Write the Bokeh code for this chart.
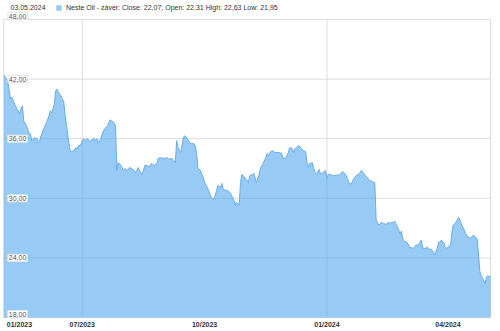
import pandas as pd
from bokeh.plotting import figure
from bokeh.models import ColumnDataSource, Label, Legend, LegendItem, Range1d
from bokeh.core.properties import value
from bokeh.embed import file_html
from bokeh.resources import INLINE

dates = [
    "2023-05-03", "2023-05-06", "2023-05-08", "2023-05-09", "2023-05-11", "2023-05-13", "2023-05-15",
    "2023-05-16", "2023-05-17", "2023-05-18", "2023-05-20", "2023-05-22", "2023-05-23", "2023-05-24",
    "2023-05-26", "2023-05-28", "2023-05-29", "2023-05-30", "2023-05-31", "2023-06-02", "2023-06-04",
    "2023-06-06", "2023-06-07", "2023-06-08", "2023-06-09", "2023-06-10", "2023-06-11", "2023-06-12",
    "2023-06-13", "2023-06-15", "2023-06-16", "2023-06-17", "2023-06-18", "2023-06-20", "2023-06-21",
    "2023-06-22", "2023-06-23", "2023-06-25", "2023-06-26", "2023-06-27", "2023-06-28", "2023-06-30",
    "2023-07-01", "2023-07-02", "2023-07-03", "2023-07-05", "2023-07-06", "2023-07-07", "2023-07-08",
    "2023-07-10", "2023-07-11", "2023-07-12", "2023-07-13", "2023-07-15", "2023-07-16", "2023-07-17",
    "2023-07-18", "2023-07-20", "2023-07-21", "2023-07-22", "2023-07-23", "2023-07-25", "2023-07-26",
    "2023-07-27", "2023-07-28", "2023-07-29", "2023-07-30", "2023-07-31", "2023-08-01", "2023-08-02",
    "2023-08-04", "2023-08-05", "2023-08-06", "2023-08-07", "2023-08-09", "2023-08-10", "2023-08-11",
    "2023-08-12", "2023-08-14", "2023-08-15", "2023-08-16", "2023-08-17", "2023-08-19", "2023-08-20",
    "2023-08-21", "2023-08-22", "2023-08-24", "2023-08-26", "2023-08-27", "2023-08-29", "2023-08-30",
    "2023-08-31", "2023-09-01", "2023-09-03", "2023-09-04", "2023-09-05", "2023-09-06", "2023-09-08",
    "2023-09-09", "2023-09-10", "2023-09-11", "2023-09-13", "2023-09-14", "2023-09-15", "2023-09-16",
    "2023-09-18", "2023-09-19", "2023-09-20", "2023-09-21", "2023-09-23", "2023-09-24", "2023-09-25",
    "2023-09-26", "2023-09-28", "2023-09-29", "2023-09-30", "2023-10-01", "2023-10-03", "2023-10-04",
    "2023-10-05", "2023-10-06", "2023-10-08", "2023-10-09", "2023-10-10", "2023-10-11", "2023-10-13",
    "2023-10-14", "2023-10-15", "2023-10-17", "2023-10-18", "2023-10-19", "2023-10-20", "2023-10-22",
    "2023-10-23", "2023-10-24", "2023-10-25", "2023-10-27", "2023-10-28", "2023-10-29", "2023-10-30",
    "2023-11-01", "2023-11-02", "2023-11-03", "2023-11-04", "2023-11-06", "2023-11-07", "2023-11-09",
    "2023-11-11", "2023-11-12", "2023-11-14", "2023-11-16", "2023-11-17", "2023-11-18", "2023-11-19",
    "2023-11-21", "2023-11-23", "2023-11-26", "2023-11-28", "2023-11-29", "2023-12-01", "2023-12-02",
    "2023-12-03", "2023-12-04", "2023-12-06", "2023-12-07", "2023-12-08", "2023-12-09", "2023-12-11",
    "2023-12-13", "2023-12-14", "2023-12-16", "2023-12-17", "2023-12-18", "2023-12-19", "2023-12-21",
    "2023-12-22", "2023-12-23", "2023-12-24", "2023-12-26", "2023-12-27", "2023-12-28", "2023-12-29",
    "2023-12-31", "2024-01-01", "2024-01-02", "2024-01-03", "2024-01-06", "2024-01-08", "2024-01-09",
    "2024-01-10", "2024-01-11", "2024-01-12", "2024-01-13", "2024-01-15", "2024-01-16", "2024-01-17",
    "2024-01-18", "2024-01-20", "2024-01-21", "2024-01-22", "2024-01-23", "2024-01-25", "2024-01-26",
    "2024-01-27", "2024-01-28", "2024-01-30", "2024-01-31", "2024-02-01", "2024-02-02", "2024-02-04",
    "2024-02-05", "2024-02-06", "2024-02-07", "2024-02-09", "2024-02-10", "2024-02-11", "2024-02-12",
    "2024-02-14", "2024-02-15", "2024-02-16", "2024-02-17", "2024-02-19", "2024-02-20", "2024-02-21",
    "2024-02-22", "2024-02-24", "2024-02-25", "2024-02-26", "2024-02-27", "2024-02-29", "2024-03-01",
    "2024-03-02", "2024-03-03", "2024-03-05", "2024-03-06", "2024-03-07", "2024-03-08", "2024-03-10",
    "2024-03-11", "2024-03-12", "2024-03-13", "2024-03-15", "2024-03-16", "2024-03-17", "2024-03-18",
    "2024-03-20", "2024-03-22", "2024-03-24", "2024-03-25", "2024-03-26", "2024-03-27", "2024-03-29",
    "2024-03-30", "2024-03-31", "2024-04-01", "2024-04-03", "2024-04-04", "2024-04-05", "2024-04-06",
    "2024-04-08", "2024-04-09", "2024-04-10", "2024-04-11", "2024-04-13", "2024-04-14", "2024-04-15",
    "2024-04-16", "2024-04-18", "2024-04-19", "2024-04-20", "2024-04-21", "2024-04-23", "2024-04-24",
    "2024-04-25", "2024-04-26", "2024-04-28", "2024-04-29", "2024-04-30", "2024-05-01", "2024-05-03",
]

close = [
    42.4, 41.8, 40.0, 40.2, 39.5, 39.0, 38.5,
    39.1, 39.3, 37.8, 37.3, 36.6, 36.5, 35.8,
    36.1, 36.0, 35.6, 35.8, 36.3, 37.0, 37.6,
    38.3, 38.8, 38.6, 39.0, 39.5, 40.8, 41.0,
    40.7, 40.3, 40.0, 39.8, 38.5, 36.5, 35.5,
    34.8, 34.7, 34.8, 35.1, 34.9, 35.3, 35.4,
    35.8, 36.0, 35.8, 36.0, 35.8, 35.7, 35.9,
    36.0, 35.8, 36.0, 35.6, 36.0, 36.5, 36.8,
    37.0, 37.3, 37.6, 37.9, 37.8, 37.6, 37.3,
    32.8, 33.6, 33.5, 33.3, 33.1, 32.8, 33.0,
    32.8, 33.0, 33.1, 33.0, 32.8, 32.6, 32.8,
    33.1, 32.6, 32.4, 32.8, 33.3, 33.3, 33.1,
    33.3, 33.5, 33.3, 33.5, 34.0, 34.1, 34.0,
    34.1, 34.0, 34.1, 33.9, 34.0, 34.0, 33.8,
    33.6, 35.8, 35.1, 34.6, 35.3, 36.1, 36.3,
    36.0, 35.8, 35.6, 35.5, 35.5, 35.3, 34.5,
    33.0, 32.8, 32.4, 32.1, 31.6, 31.1, 30.8,
    30.4, 30.1, 29.9, 30.3, 30.8, 31.3, 31.1,
    31.5, 30.9, 30.8, 30.8, 30.7, 30.6, 30.1,
    29.8, 29.3, 29.6, 29.3, 31.6, 32.4, 32.3,
    31.9, 31.8, 31.6, 32.3, 32.4, 32.5, 31.6,
    32.4, 33.0, 33.5, 34.1, 34.5, 34.3, 34.6,
    34.8, 34.6, 34.6, 34.5, 34.0, 34.1, 34.3,
    34.6, 35.1, 35.0, 34.6, 35.0, 35.1, 35.3,
    35.0, 34.8, 34.7, 33.6, 33.1, 33.5, 33.6,
    33.1, 32.6, 32.4, 32.9, 32.6, 32.4, 32.6,
    32.8, 32.0, 32.4, 32.4, 32.3, 32.3, 32.4,
    32.3, 32.4, 32.6, 32.7, 32.4, 32.1, 31.8,
    31.4, 31.6, 32.0, 32.1, 32.3, 32.4, 32.6,
    32.8, 32.6, 32.3, 32.1, 32.0, 31.8, 31.7,
    31.6, 31.6, 27.8, 27.3, 27.4, 27.6, 27.5,
    27.4, 27.4, 27.6, 27.5, 27.6, 27.6, 27.7,
    27.4, 26.8, 26.4, 26.7, 25.9, 25.6, 25.6,
    25.4, 25.1, 25.0, 25.0, 25.1, 25.3, 25.3,
    25.6, 25.8, 25.0, 24.9, 25.1, 25.0, 24.9,
    24.8, 24.3, 25.0, 25.6, 25.5, 25.8, 25.5,
    25.0, 24.9, 25.1, 25.3, 26.6, 27.3, 27.4,
    27.8, 28.1, 27.8, 27.4, 26.9, 26.5, 26.3,
    26.1, 26.0, 26.1, 26.3, 26.2, 25.9, 24.4,
    22.6, 22.2, 21.7, 21.4, 22.1, 22.2, 22.07,
]

y_ticks = [18, 24, 30, 36, 42, 48]
y_tick_labels = ["18,00", "24,00", "30,00", "36,00", "42,00", "48,00"]
x_tick_dates = ["2023-07-01", "2023-10-01", "2024-01-01", "2024-04-01"]
x_tick_labels = ["07/2023", "10/2023", "01/2024", "04/2024"]
x_grid_dates = ["2023-07-01", "2024-01-01"]
first_x_label = "01/2023"
header_date = "03.05.2024"
series_label = "Neste Oil - záver: Close: 22,07; Open: 22,31 High: 22,63 Low: 21,95"
x_start, x_end = "2023-05-03", "2024-05-03"

FONT = "Liberation Sans"
W, H = 500, 331
# plot-box margins in pixels inside the canvas
ML, MR, MT, MB = 3.3, 10.0, 19.0, 14.0

t0, t1 = pd.Timestamp(x_start), pd.Timestamp(x_end)
ymin, ymax = min(y_ticks), max(y_ticks)
span_days = (t1 - t0) / pd.Timedelta(days=1)
px_day = (W - ML - MR) / span_days
px_unit = (H - MT - MB) / (ymax - ymin)
xr = Range1d(t0 - pd.Timedelta(days=ML / px_day), t1 + pd.Timedelta(days=MR / px_day))
yr = Range1d(ymin - MB / px_unit, ymax + MT / px_unit)

src = ColumnDataSource(dict(x=pd.to_datetime(dates), y=close))

p = figure(width=W, height=H, x_axis_location=None, y_axis_location=None,
           output_backend="svg", toolbar_location=None, x_range=xr, y_range=yr,
           min_border=0)
p.outline_line_color = None
p.xgrid.visible = False
p.ygrid.visible = False
p.background_fill_color = "white"
p.border_fill_color = "white"

GRID = "#dcdcdc"
# horizontal grid lines (incl. top and bottom of the box)
p.segment(x0=[t0] * len(y_ticks), x1=[t1] * len(y_ticks), y0=y_ticks, y1=y_ticks,
          line_color=GRID, line_width=1)
# vertical lines: box edges and half-year grid
vx = [t0, t1] + [pd.Timestamp(d) for d in x_grid_dates]
p.segment(x0=vx, x1=vx, y0=[ymin] * len(vx), y1=[ymax] * len(vx), line_color=GRID, line_width=1)

area = p.varea(x="x", y1=ymin, y2="y", source=src, fill_color="#4DA3F0", fill_alpha=0.58)
p.line(x="x", y="y", source=src, line_color="#68ADEA", line_width=1)

# y labels inside the box
ylab = ColumnDataSource(dict(
    x=[t0] * len(y_ticks), y=y_ticks, text=y_tick_labels,
    base=["bottom" if v in (ymin, ymax) else "middle" for v in y_ticks]))
p.text(x="x", y="y", text="text", source=ylab, x_offset=4, text_baseline="base",
       text_align="left", text_font=value(FONT), text_font_size="7px", text_color="#555555",
       background_fill_color="white", border_line_color="#e6e6e6", padding=1)

# x labels below the box
xlab = ColumnDataSource(dict(x=pd.to_datetime(x_tick_dates), y=[ymin] * len(x_tick_dates),
                             text=x_tick_labels))
p.text(x="x", y="y", text="text", source=xlab, y_offset=7, text_baseline="middle",
       text_align="center", text_font=value(FONT), text_font_size="7px",
       text_font_style="bold", text_color="#333333")
p.text(x=[t0], y=[ymin], text=[first_x_label], x_offset=3, y_offset=7, text_baseline="middle",
       text_align="left", text_font=value(FONT), text_font_size="7px",
       text_font_style="bold", text_color="#333333")

# header
p.add_layout(Label(x=10, y=H - 7, x_units="screen", y_units="screen", text=header_date,
                   text_font=FONT, text_font_size="7px", text_color="#333333",
                   text_align="left", text_baseline="middle"))
legend = Legend(items=[LegendItem(label=series_label, renderers=[area])],
                location=(55, H - 11), padding=0, margin=0, spacing=0,
                glyph_width=7, glyph_height=7, label_height=7, label_standoff=4,
                label_text_font=FONT, label_text_font_size="7px", label_text_color="#333333",
                border_line_color=None, background_fill_alpha=0)
p.add_layout(legend, "center")

open("out.html", "w").write(file_html(p, INLINE))
